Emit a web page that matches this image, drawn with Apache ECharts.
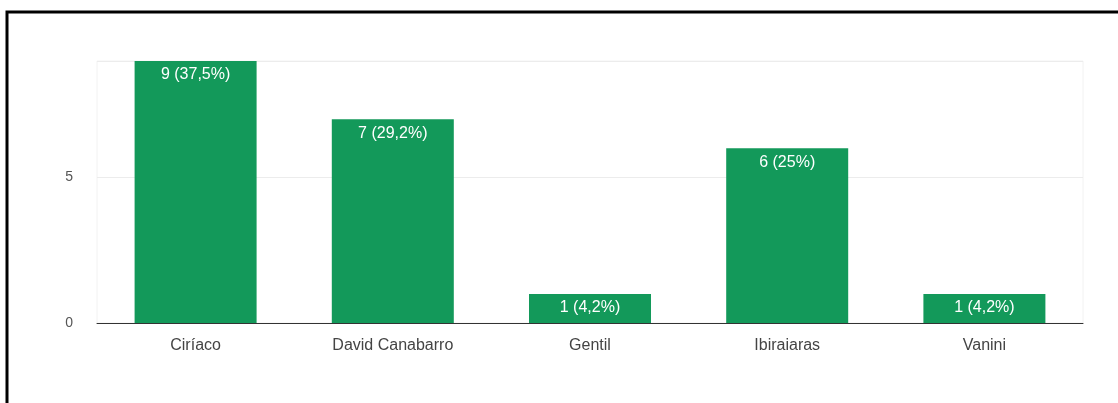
<!DOCTYPE html>
<html>
<head>
<meta charset="utf-8">
<script src="https://cdn.jsdelivr.net/npm/echarts@6/dist/echarts.min.js"></script>
<style>
  html, body { margin: 0; padding: 0; background: #fff; }
  #chart { width: 1118px; height: 403px; }
</style>
</head>
<body>
<div id="chart"></div>
<script>
// dados
var categorias = ['Ciríaco', 'David Canabarro', 'Gentil', 'Ibiraiaras', 'Vanini'];
var valores = [9, 7, 1, 6, 1];
var percentuais = ['37,5%', '29,2%', '4,2%', '25%', '4,2%'];

var myChart = echarts.init(document.getElementById('chart'));

var option = {
    animation: false,
    grid: {
        left: 97,
        right: 35,
        top: 61,
        bottom: 80,
        show: true,
        borderColor: '#f2f2f2',
        borderWidth: 1
    },
    // moldura preta (só topo e esquerda aparecem)
    graphic: [{
        type: 'rect',
        shape: { x: 7, y: 12, width: 1300, height: 600 },
        style: { fill: 'none', stroke: '#000', lineWidth: 3 }
    }],
    xAxis: {
        type: 'category',
        data: categorias,
        axisLine: { lineStyle: { color: '#333', width: 1 } },
        axisTick: { show: false },
        axisLabel: {
            color: '#444',
            fontSize: 16,
            fontFamily: 'Arial',
            margin: 15
        }
    },
    yAxis: {
        type: 'value',
        min: 0,
        max: 9,
        interval: 5,
        axisLine: { show: false },
        axisTick: { show: false },
        axisLabel: {
            color: '#555',
            fontSize: 14,
            fontFamily: 'Arial',
            margin: 24,
            formatter: function (v) {
                return v % 5 === 0 ? v : '';
            }
        },
        splitLine: { lineStyle: { color: '#ececec' } }
    },
    series: [{
        type: 'bar',
        data: valores,
        barWidth: 122,
        itemStyle: { color: '#13995a' },
        label: {
            show: true,
            position: 'insideTop',
            distance: 6,
            color: '#fff',
            fontSize: 16,
            fontFamily: 'Arial',
            formatter: function (p) {
                return p.value + ' (' + percentuais[p.dataIndex] + ')';
            }
        }
    }]
};

myChart.setOption(option);
</script>
</body>
</html>
